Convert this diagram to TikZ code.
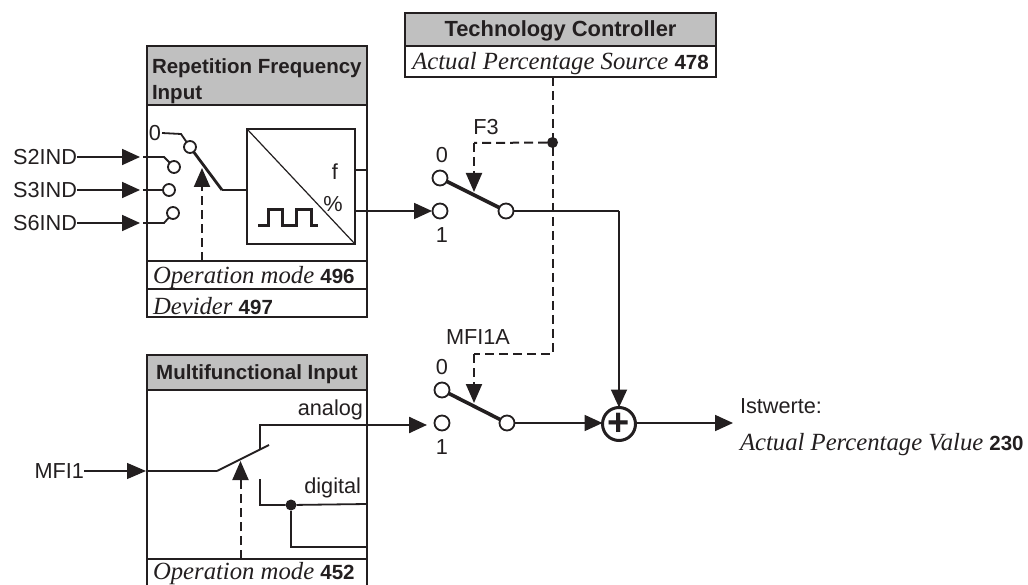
\documentclass[tikz,border=0pt]{standalone}
\usepackage{fontspec}
\setmainfont{Liberation Sans}
\newfontfamily\serifit{Liberation Serif}
\usetikzlibrary{arrows.meta}
\definecolor{ink}{HTML}{231F20}
\definecolor{hdrgray}{HTML}{C0C0C0}
\newcommand{\paramtxt}[2]{{\fontsize{24.7}{28}\selectfont\serifit\itshape #1\ \normalfont\fontsize{20.5}{28}\selectfont\bfseries #2}}
\tikzset{
  every node/.style={text=ink,outer sep=0pt,inner sep=0pt},
  wire/.style={draw=ink,line width=1.8pt},
  thinwire/.style={draw=ink,line width=1.2pt},
  thickwire/.style={draw=ink,line width=3.6pt},
  ctrl/.style={draw=ink,line width=2pt,dash pattern=on 9pt off 5pt},
  arrowwire/.style={wire,-{Triangle[length=18pt,width=16pt]}},
  ctrlarrow/.style={ctrl,-{Triangle[length=19pt,width=16pt]}},
  panel/.style={draw=ink,line width=1.8pt,fill=white},
  hdr/.style={draw=ink,line width=1.8pt,fill=hdrgray},
  hdrtxt/.style={font=\fontsize{20.5}{26}\selectfont\bfseries},
  rowbox/.style={draw=ink,line width=1.4pt,fill=white},
  lbl/.style={font=\fontsize{21.7}{26}\selectfont},
  port/.style={circle,draw=ink,line width=1.8pt,fill=white,minimum size=12pt},
  bigport/.style={circle,draw=ink,line width=1.8pt,fill=white,minimum size=15pt},
  junction/.style={circle,fill=ink,minimum size=11pt},
}
\begin{document}
\begin{tikzpicture}[x=1pt,y=-1pt]
\useasboundingbox (0,0) rectangle (1028,585);
% Repetition frequency panel
\node[panel,minimum width=220pt,minimum height=271pt] (rfbox) at (257,181.5) {};
\node[hdr,minimum width=220pt,minimum height=59pt] (rfhdr) at (257,75.5) {};
\node[hdrtxt,anchor=west,align=left] (rft) at (152,81) {Repetition Frequency\\Input};
\node[rowbox,minimum width=220pt,minimum height=28pt] (rfop) at (257,275) {};
\node[anchor=west] (rfopt) at (153,278) {\paramtxt{Operation mode}{496}};
\node[rowbox,minimum width=220pt,minimum height=28pt] (rfdiv) at (257,303) {};
\node[anchor=west] (rfdivt) at (153,306) {\paramtxt{Devider}{497}};
% Converter
\node[draw=ink,line width=1.8pt,minimum width=108pt,minimum height=115pt] (conv) at (301,186.5) {};
\draw[thinwire] (conv.north west) -- (conv.south east);
\node[lbl] (ft) at (335,172) {f};
\node[lbl] (pct) at (333,204) {\%};
\coordinate (p0) at (258,226);
\draw[draw=ink,line width=3pt] (p0) -- ++(10,0) -- ++(0,-16) -- ++(14,0) -- ++(0,16) -- ++(14,0) -- ++(0,-16) -- ++(15,0) -- ++(0,16) -- ++(7,0);
% Selector
\node[lbl] (zero) at (155,133) {0};
\node[lbl,anchor=east] (s2) at (77,157) {S2IND};
\node[lbl,anchor=east] (s3) at (77,190) {S3IND};
\node[lbl,anchor=east] (s6) at (77,223) {S6IND};
\coordinate (s2e) at (140,157);
\coordinate (s3e) at (140,190);
\coordinate (s6e) at (140,223);
\draw[arrowwire] (s2) -- (s2e);
\draw[arrowwire] (s3) -- (s3e);
\draw[arrowwire] (s6) -- (s6e);
\node[port] (c0) at (190,147) {};
\node[port] (c2) at (174,167) {};
\node[port] (c3) at (169,190) {};
\node[port] (c6) at (173,213) {};
\coordinate (b0) at (181,134);
\coordinate (b2) at (164,157);
\coordinate (b6) at (164,223);
\coordinate (s2i) at (143,157);
\coordinate (s3i) at (143,190);
\coordinate (s6i) at (143,223);
\draw[wire] (zero.east) ++(1,0) -- (b0) -- (c0);
\draw[wire] (s2i) -- (b2) -- (c2);
\draw[wire] (s3i) -- (c3);
\draw[wire] (s6i) -- (b6) -- (c6);
\coordinate (selp) at (222,190);
\draw[draw=ink,line width=2.8pt] (c0) -- (selp);
\draw[wire] (selp) -- (conv.west |- selp);
\coordinate (selc) at (202,168);
\draw[ctrlarrow] (rfop.north -| selc) -- (selc);
% outputs
\coordinate (fend) at (367,170);
\draw[wire] (conv.east |- fend) -- (fend);
\coordinate (pe) at (432,211);
\draw[arrowwire] (conv.east |- pe) -- (pe);
% Technology controller
\node[hdr,minimum width=311pt,minimum height=33pt] (tchdr) at (560.5,29.5) {};
\node[font=\fontsize{21.9}{26}\selectfont\bfseries] (tct) at (560.5,30.5) {Technology Controller};
\node[rowbox,minimum width=311pt,minimum height=31pt] (tcsrc) at (560.5,61.5) {};
\node (tcst) at (560.5,63.5) {\paramtxt{Actual Percentage Source}{478}};
% F3 switch
\node[bigport] (f0) at (440,178) {};
\node[bigport] (f1) at (440,211) {};
\node[bigport] (fp) at (506,211) {};
\draw[thickwire] (f0) -- (fp);
\node[lbl] (f0t) at (442,155) {0};
\node[lbl] (f1t) at (442,235) {1};
\node[lbl] (f3t) at (486,127) {F3};
\node[junction] (jn) at (552.5,142.5) {};
\coordinate (f3b) at (474,143);
\coordinate (f3a) at (474,192);
\draw[ctrl] (jn) -- (f3b);
\draw[ctrlarrow] (f3b) -- (f3a);
% MFI1A switch
\node[bigport] (m0) at (442,390) {};
\node[bigport] (m1) at (442,423) {};
\node[bigport] (mp) at (507,423) {};
\draw[thickwire] (m0) -- (mp);
\node[lbl] (m0t) at (442,367) {0};
\node[lbl] (m1t) at (442,447) {1};
\node[lbl] (mat) at (478,337) {MFI1A};
\coordinate (mc) at (552.5,354);
\coordinate (mb) at (474,354);
\coordinate (ma) at (474,403);
\draw[ctrl] (tcsrc.south -| jn) -- (mc) -- (mb);
\draw[ctrlarrow] (mb) -- (ma);
% Summer
\node[circle,draw=ink,line width=3pt,fill=white,minimum size=33pt] (sum) at (619,424) {};
\node[font=\fontsize{38}{38}\selectfont\bfseries] (plus) at (619,424.5) {+};
\coordinate (fc) at (619,211);
\draw[wire] (fp) -- (fc);
\draw[arrowwire] (fc) -- (sum);
\draw[arrowwire] (mp) -- (mp -| sum.west);
\coordinate (oute) at (733,423);
\draw[arrowwire] (sum.east |- oute) -- (oute);
\node[lbl,anchor=west] (ist) at (740,406) {Istwerte:};
\node[anchor=west] (apv) at (740,445) {\paramtxt{Actual Percentage Value}{230}};
% Multifunctional panel
\node[panel,minimum width=220pt,minimum height=240pt,anchor=north] (mfbox) at (257,355) {};
\node[hdr,minimum width=220pt,minimum height=35pt] (mfhdr) at (257,372.5) {};
\node[hdrtxt] (mft) at (257,374) {Multifunctional Input};
\node[rowbox,minimum width=220pt,minimum height=40pt,anchor=north] (mfop) at (257,559) {};
\node[anchor=west] (mfopt) at (153,574) {\paramtxt{Operation mode}{452}};
\node[lbl,anchor=east] (mfi) at (84,471) {MFI1};
\coordinate (mfin) at (146,471);
\draw[thinwire,-{Triangle[length=19pt,width=16pt]}] (mfi) -- (mfin);
\coordinate (swa) at (217,471);
\coordinate (swb) at (269,445);
\draw[draw=ink,line width=2.6pt] (mfin) -- (swa);
\draw[wire] (swa) -- (swb);
\coordinate (ana) at (260,449);
\coordinate (anb) at (260,425);
\coordinate (anc) at (367,425);
\coordinate (ane) at (427,425);
\draw[wire] (ana) -- (anb) -- (anc);
\draw[arrowwire,line width=2.4pt] (anc) -- (ane);
\node[lbl,anchor=east] (ant) at (363,410) {analog};
\node[lbl,anchor=east] (digt) at (361,488) {digital};
\coordinate (dia) at (260,479);
\coordinate (dib) at (260,505);
\coordinate (dic) at (367,504);
\coordinate (did) at (291,547);
\coordinate (die) at (367,547);
\node[junction] (dj) at (291,505) {};
\draw[wire] (dia) -- (dib) -- (dj) -- (dic);
\draw[wire] (dj) -- (did) -- (die);
\coordinate (mfc) at (240.5,461);
\draw[ctrlarrow] (mfop.north -| mfc) -- (mfc);
\end{tikzpicture}
\end{document}
